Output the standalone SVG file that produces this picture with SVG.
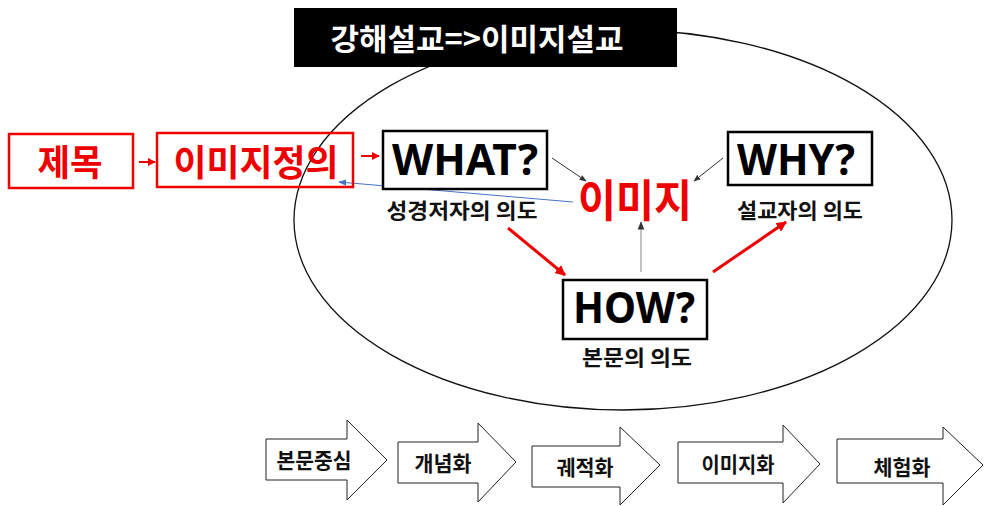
<svg xmlns="http://www.w3.org/2000/svg" width="990" height="506" viewBox="0 0 990 506">
<defs>
<style>
.k{font-family:"Noto Sans CJK KR","Noto Sans",sans-serif;font-weight:bold;text-anchor:middle}
.en{font-family:"Noto Sans","Noto Sans CJK KR",sans-serif;font-weight:bold;text-anchor:middle;font-size:43px;fill:#000}
.rbox{fill:none;stroke:#e00;stroke-width:2.5}
.bbox{fill:#fff;stroke:#000;stroke-width:2.5}
.blk{fill:#fff;stroke:#222;stroke-width:1}
.lbl{font-size:21px;fill:#111}
</style>
<marker id="mr" viewBox="0 0 10 10" refX="9" refY="5" markerWidth="4" markerHeight="4" orient="auto"><path d="M0,0L10,5L0,10z" fill="#e00"/></marker>
<marker id="mr2" viewBox="0 0 10 10" refX="9" refY="5" markerWidth="3.5" markerHeight="3.5" orient="auto"><path d="M0,0L10,5L0,10z" fill="#e00"/></marker>
<marker id="mk" viewBox="0 0 10 10" refX="9" refY="5" markerWidth="7" markerHeight="7" orient="auto"><path d="M0,1L10,5L0,9z" fill="#333"/></marker>
<marker id="mb" viewBox="0 0 10 10" refX="9" refY="5" markerWidth="8" markerHeight="8" orient="auto"><path d="M0,1L10,5L0,9z" fill="#4472c4"/></marker>
</defs>
<rect width="990" height="506" fill="#fff"/>
<ellipse id="ellipse" cx="623" cy="220" rx="329" ry="190" fill="none" stroke="#111" stroke-width="1.3"/>
<g id="title">
<rect x="294" y="8" width="383" height="59" fill="#000"/>
<text class="k" x="477" y="50" font-size="30" fill="#fff" textLength="293" lengthAdjust="spacingAndGlyphs">강해설교=&gt;이미지설교</text>
</g>
<g id="connectors">
<line x1="139" y1="162" x2="155" y2="162" stroke="#e00" stroke-width="2" marker-end="url(#mr)"/>
<line x1="361" y1="156" x2="379" y2="156" stroke="#e00" stroke-width="2" marker-end="url(#mr)"/>
<line x1="552" y1="158" x2="586" y2="181" stroke="#333" stroke-width="1" marker-end="url(#mk)"/>
<line x1="723" y1="158" x2="694" y2="181" stroke="#333" stroke-width="1" marker-end="url(#mk)"/>
<line x1="641" y1="272" x2="641" y2="222" stroke="#999" stroke-width="1.2" marker-end="url(#mk)"/>
<line x1="573" y1="202" x2="339" y2="182" stroke="#4472c4" stroke-width="1" marker-end="url(#mb)"/>
<line x1="508" y1="228" x2="565" y2="275" stroke="#e00" stroke-width="3" marker-end="url(#mr2)"/>
<line x1="713" y1="272" x2="786" y2="222" stroke="#e00" stroke-width="3" marker-end="url(#mr2)"/>
</g>
<g id="n-title">
<rect class="rbox" x="9" y="134" width="124" height="54"/>
<text class="k" x="70" y="176" font-size="36" fill="#e00" textLength="65" lengthAdjust="spacingAndGlyphs">제목</text>
</g>
<g id="n-define">
<rect class="rbox" x="157" y="133" width="196" height="54"/>
<text class="k" x="256" y="176" font-size="36" fill="#e00" textLength="165" lengthAdjust="spacingAndGlyphs">이미지정의</text>
</g>
<g id="n-what">
<rect class="bbox" x="383" y="131" width="164" height="58"/>
<text class="en" x="465" y="175" textLength="146" lengthAdjust="spacingAndGlyphs">WHAT?</text>
<text class="k lbl" x="462" y="218" textLength="151" lengthAdjust="spacingAndGlyphs">성경저자의 의도</text>
</g>
<g id="n-why">
<rect class="bbox" x="728" y="132" width="144" height="53"/>
<text class="en" x="796" y="175" textLength="118" lengthAdjust="spacingAndGlyphs">WHY?</text>
<text class="k lbl" x="800" y="218" textLength="126" lengthAdjust="spacingAndGlyphs">설교자의 의도</text>
</g>
<g id="n-image">
<text class="k" x="635" y="217" font-size="44" fill="#e00" textLength="114" lengthAdjust="spacingAndGlyphs">이미지</text>
</g>
<g id="n-how">
<rect class="bbox" x="563" y="280" width="144" height="59"/>
<text class="en" x="634" y="323" textLength="122" lengthAdjust="spacingAndGlyphs">HOW?</text>
<text class="k lbl" x="637" y="365" textLength="110" lengthAdjust="spacingAndGlyphs">본문의 의도</text>
</g>
<g id="s1">
<path class="blk" d="M266,439H347V420L387,460L347,500V480H266Z"/>
<text class="k" x="314" y="468" font-size="21" fill="#111" textLength="75" lengthAdjust="spacingAndGlyphs">본문중심</text>
</g>
<g id="s2">
<path class="blk" d="M398,442H478V423L516,462L478,502V483H398Z"/>
<text class="k" x="443" y="471" font-size="21" fill="#111" textLength="57" lengthAdjust="spacingAndGlyphs">개념화</text>
</g>
<g id="s3">
<path class="blk" d="M532,446H620V427L660,465L620,505V487H532Z"/>
<text class="k" x="585" y="475" font-size="21" fill="#111" textLength="57" lengthAdjust="spacingAndGlyphs">궤적화</text>
</g>
<g id="s4">
<path class="blk" d="M678,442H783V425L820,464L783,503V483H678Z"/>
<text class="k" x="738" y="472" font-size="21" fill="#111" textLength="73" lengthAdjust="spacingAndGlyphs">이미지화</text>
</g>
<g id="s5">
<path class="blk" d="M837,439H943V427L983,465L943,505V483H837Z"/>
<text class="k" x="902" y="475" font-size="21" fill="#111" textLength="57" lengthAdjust="spacingAndGlyphs">체험화</text>
</g>
</svg>
